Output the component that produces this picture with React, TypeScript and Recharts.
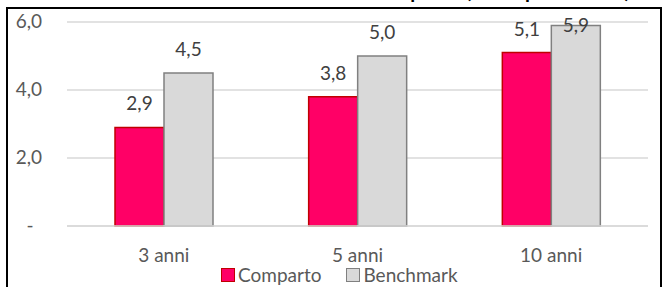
import { BarChart, Bar, XAxis, YAxis, CartesianGrid, LabelList } from "recharts";

const periods = ["3 anni", "5 anni", "10 anni"];
const comparto = [2.9, 3.8, 5.1];
const benchmark = [4.5, 5.0, 5.9];
const yTicks = [0, 2, 4, 6];

const data = periods.map((p, i) => ({ period: p, comparto: comparto[i], benchmark: benchmark[i] }));

const FONT = "Lato, 'Open Sans', sans-serif";
const FS = 19;
const fmt = (v: number) => v.toFixed(1).replace(".", ",");

const YTick = (props: any) => {
  const { x, y, payload } = props;
  if (payload.value === 0) {
    return (
      <text x={30} y={y} dy={6} textAnchor="middle" fill="#595959" fontSize={FS} fontFamily={FONT}>
        -
      </text>
    );
  }
  return (
    <text x={x} y={y} dy={6} textAnchor="end" fill="#595959" fontSize={FS} fontFamily={FONT}>
      {fmt(payload.value)}
    </text>
  );
};

const ValueLabel = (props: any) => {
  const { x, y, width, value } = props;
  const cy = Math.max(y - 23, 26);
  return (
    <text x={x + width / 2} y={cy} dy={6} textAnchor="middle" fill="#404040" fontSize={FS} fontFamily={FONT}>
      {fmt(value)}
    </text>
  );
};

export default function App() {
  return (
    <div style={{ position: "fixed", left: 0, top: 0, width: 664, height: 287, overflow: "hidden", background: "#fff" }}>
      <div
        style={{
          position: "absolute",
          right: 34,
          top: -20,
          lineHeight: "20px",
          whiteSpace: "nowrap",
          fontFamily: FONT,
          fontWeight: 700,
          fontSize: 20,
          color: "#000",
        }}
      >
        Rendimento netto medio annuo composto (valori percentuali)
      </div>
      <div
        style={{
          position: "absolute",
          left: 6,
          top: 7,
          width: 652,
          height: 290,
          border: "2.5px solid #000",
        }}
      />
      <div style={{ position: "absolute", left: 0, top: 0 }}>
        <BarChart
          width={664}
          height={287}
          data={data}
          margin={{ top: 22, right: 16, bottom: 31, left: 0 }}
          barGap={0}
          barSize={49}
        >
          <CartesianGrid vertical={false} stroke="#D9D9D9" strokeWidth={1.5} />
          <XAxis
            dataKey="period"
            height={30}
            axisLine={{ stroke: "#D9D9D9", strokeWidth: 1.5 }}
            tickLine={false}
            tickSize={0}
            tickMargin={23}
            tick={{ fill: "#595959", fontSize: FS, fontFamily: FONT }}
          />
          <YAxis
            width={67}
            domain={[0, 6]}
            ticks={yTicks}
            axisLine={false}
            tickLine={false}
            tickSize={0}
            tickMargin={25}
            tick={<YTick />}
          />
          <Bar dataKey="comparto" name="Comparto" fill="#FF0066" stroke="#C00000" strokeWidth={1.5} isAnimationActive={false}>
            <LabelList dataKey="comparto" content={<ValueLabel />} />
          </Bar>
          <Bar dataKey="benchmark" name="Benchmark" fill="#D9D9D9" stroke="#808080" strokeWidth={1.5} isAnimationActive={false}>
            <LabelList dataKey="benchmark" content={<ValueLabel />} />
          </Bar>
        </BarChart>
      </div>
      <div
        style={{
          position: "absolute",
          left: 221,
          top: 265,
          display: "flex",
          alignItems: "center",
          fontFamily: FONT,
          fontSize: FS,
          lineHeight: "20px",
          color: "#595959",
        }}
      >
        <span style={{ width: 12, height: 12, background: "#FF0066", border: "1.5px solid #C00000", marginRight: 3 }} />
        <span style={{ marginRight: 25 }}>Comparto</span>
        <span style={{ width: 12, height: 12, background: "#D9D9D9", border: "1.5px solid #808080", marginRight: 3 }} />
        <span>Benchmark</span>
      </div>
    </div>
  );
}
